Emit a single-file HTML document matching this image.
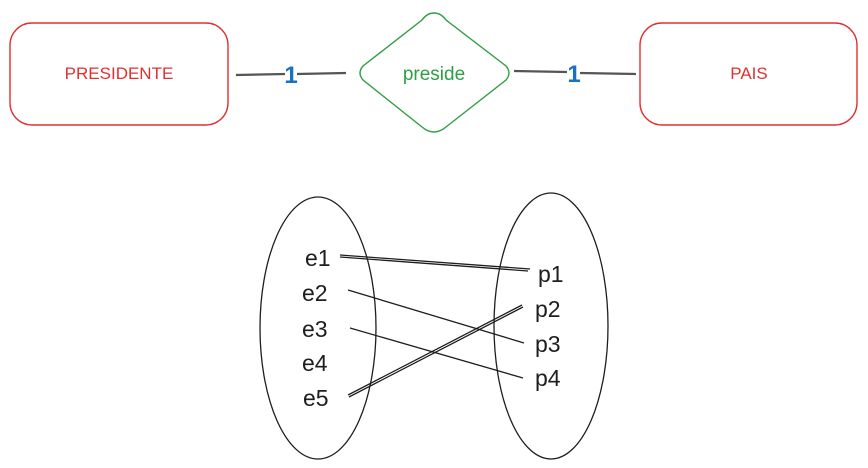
<!DOCTYPE html>
<html><head><meta charset="utf-8"><style>
html,body{margin:0;padding:0;background:#fff;width:868px;height:468px;overflow:hidden}
</style></head><body>
<svg width="868" height="468" xmlns="http://www.w3.org/2000/svg">
<rect x="0" y="0" width="868" height="468" fill="#fff"/>
<rect x="10" y="23" width="218" height="102" rx="22" fill="none" stroke="#e03131" stroke-width="1.4"/>
<rect x="640" y="23" width="217" height="102" rx="22" fill="none" stroke="#e03131" stroke-width="1.4"/>
<path d="M434 13 Q441 13 446 20 L506 66 Q512 73 506 80 L446 127 Q434 137 422 127 L363 80 Q357 73 363 66 L422 20 Q427 13 434 13 Z" fill="none" stroke="#2f9e44" stroke-width="1.4"/>
<g font-family="Liberation Sans, sans-serif" text-anchor="middle">
<text x="119" y="79" font-size="17" fill="#e03131">PRESIDENTE</text>
<text x="749" y="79" font-size="17" fill="#e03131">PAIS</text>
<text x="434" y="80" font-size="19" fill="#2f9e44">preside</text>
</g>
<g stroke="#555" stroke-width="2.2">
<line x1="236" y1="75" x2="285" y2="74"/>
<line x1="297" y1="74" x2="346" y2="73"/>
<line x1="514" y1="71" x2="567" y2="72"/>
<line x1="580" y1="73" x2="636" y2="74"/>
</g>
<g fill="#1971c2" font-family="Liberation Sans, sans-serif" font-size="24" font-weight="bold" text-anchor="middle">
<text x="291" y="83">1</text>
<text x="574" y="82">1</text>
</g>
<g fill="none" stroke="#1e1e1e" stroke-width="1.3">
<ellipse cx="318" cy="328" rx="58" ry="131"/>
<ellipse cx="551" cy="326" rx="57" ry="133"/>
<line x1="340" y1="255" x2="530" y2="269"/>
<line x1="340" y1="257" x2="528" y2="271"/>
<line x1="348" y1="290" x2="524" y2="343"/>
<line x1="350" y1="328" x2="523" y2="378"/>
<line x1="348" y1="395" x2="522" y2="305"/>
<line x1="349" y1="397" x2="523" y2="307"/>
</g>
<g fill="#1e1e1e" font-family="Liberation Sans, sans-serif" font-size="23">
<text x="305" y="266">e1</text>
<text x="302" y="301">e2</text>
<text x="302" y="337">e3</text>
<text x="302" y="371">e4</text>
<text x="303" y="406">e5</text>
<text x="538" y="282">p1</text>
<text x="535" y="317">p2</text>
<text x="535" y="352">p3</text>
<text x="535" y="386">p4</text>
</g>
</svg>
</body></html>
